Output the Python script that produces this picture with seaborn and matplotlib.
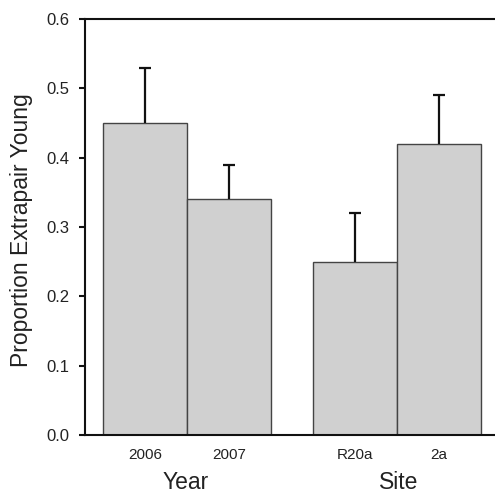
import matplotlib
matplotlib.use("Agg")
import matplotlib.pyplot as plt
import seaborn as sns
import pandas as pd
import numpy as np

# Data
categories = ["2006", "2007", "R20a", "2a"]
positions = [0.0, 1.0, 2.5, 3.5]
values = [0.45, 0.34, 0.25, 0.42]
errors = [0.08, 0.05, 0.07, 0.07]
groups = ["Year", "Site"]
group_centers = [0.48, 3.02]
yticks = [0.0, 0.1, 0.2, 0.3, 0.4, 0.5, 0.6]

sns.set_style("ticks")
plt.rcParams["font.family"] = ["Liberation Sans", "DejaVu Sans"]

df = pd.DataFrame({"pos": positions, "value": values, "cat": categories})

fig = plt.figure(figsize=(4.95, 4.92), dpi=100)
ax = fig.add_axes([85/495, (492-435)/492, (495-85)/495, (435-19)/492])

sns.barplot(data=df, x="pos", y="value", native_scale=True, width=1.0,
            color="#d0d0d0", saturation=1, edgecolor="#444444", linewidth=1.0,
            errorbar=None, ax=ax)

# upper-only error bars
pos_arr = np.array(positions)
val_arr = np.array(values)
err_arr = np.array(errors)
cap_half = 0.0714
ax.vlines(pos_arr, val_arr, val_arr + err_arr, color="#111111", linewidth=1.6, zorder=5)
ax.hlines(val_arr + err_arr, pos_arr - cap_half, pos_arr + cap_half,
          color="#111111", linewidth=1.6, zorder=5)

ax.set_xlim(-0.714, 4.167)
ax.set_ylim(0, 0.6)
ax.set_yticks(yticks)
ax.set_yticklabels([f"{t:.1f}" for t in yticks], fontsize=12, color="#222222")
ax.set_xticks(positions)
ax.set_xticklabels(categories, fontsize=11, color="#222222")
ax.tick_params(axis="x", length=0, pad=9.5)
ax.tick_params(axis="y", length=6*0.72, width=1.5, direction="out", pad=7, color="#111111")

for s in ["left", "top", "bottom"]:
    ax.spines[s].set_visible(True)
    ax.spines[s].set_linewidth(1.5)
    ax.spines[s].set_color("#111111")
ax.spines["right"].set_visible(False)

ax.set_xlabel("")
ax.set_ylabel("Proportion Extrapair Young", fontsize=16.5, color="#222222", va="center")
ax.yaxis.set_label_coords(-0.154, 0.492)

for g, c in zip(groups, group_centers):
    ax.text(c, -0.113, g, transform=ax.get_xaxis_transform(), ha="center", va="center",
            fontsize=16.5, color="#222222")

fig.savefig("out.png", dpi=100)
